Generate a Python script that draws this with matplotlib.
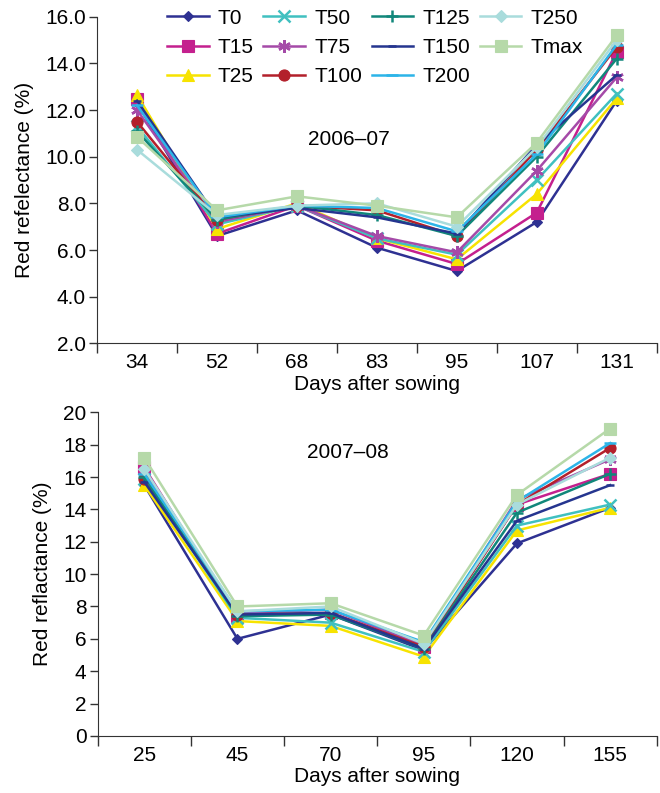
import matplotlib.pyplot as plt
import numpy as np

plt.rcParams['font.family'] = ['Liberation Sans', 'DejaVu Sans']
plt.rcParams['font.size'] = 15

names = ["T0", "T15", "T25", "T50", "T75", "T100", "T125", "T150", "T200", "T250", "Tmax"]

# 2006-07
days1 = ["34", "52", "68", "83", "95", "107", "131"]
t0_1 = [12.3, 6.6, 7.7, 6.1, 5.1, 7.2, 12.4]
t15_1 = [12.45, 6.7, 7.9, 6.4, 5.4, 7.6, 14.5]
t25_1 = [12.65, 6.9, 8.0, 6.5, 5.6, 8.4, 12.5]
t50_1 = [11.3, 7.1, 7.9, 6.5, 5.8, 9.0, 12.7]
t75_1 = [12.0, 7.2, 7.9, 6.6, 5.9, 9.4, 13.4]
t100_1 = [11.5, 7.3, 7.9, 7.7, 6.6, 10.3, 14.7]
t125_1 = [11.1, 7.3, 7.9, 7.5, 6.6, 10.0, 14.2]
t150_1 = [12.4, 7.4, 7.8, 7.4, 6.7, 10.5, 13.5]
t200_1 = [12.2, 7.4, 7.9, 7.8, 6.8, 10.1, 14.8]
t250_1 = [10.3, 7.5, 7.9, 8.0, 7.0, 10.4, 15.0]
tmax_1 = [10.85, 7.7, 8.3, 7.9, 7.4, 10.6, 15.2]

# 2007-08
days2 = ["25", "45", "70", "95", "120", "155"]
t0_2 = [15.5, 6.0, 7.5, 5.3, 11.9, 14.1]
t15_2 = [16.6, 7.4, 7.6, 5.5, 14.3, 16.2]
t25_2 = [15.5, 7.1, 6.8, 4.9, 12.7, 14.1]
t50_2 = [15.9, 7.3, 7.0, 5.2, 13.0, 14.3]
t75_2 = [16.4, 7.6, 7.8, 5.6, 14.6, 17.1]
t100_2 = [15.9, 7.5, 7.6, 5.5, 14.3, 17.8]
t125_2 = [16.0, 7.4, 7.5, 5.4, 13.8, 16.2]
t150_2 = [15.7, 7.5, 7.6, 5.4, 13.3, 15.5]
t200_2 = [16.2, 7.7, 7.8, 5.8, 14.5, 18.1]
t250_2 = [16.5, 7.7, 8.0, 5.7, 14.3, 17.2]
tmax_2 = [17.2, 8.0, 8.2, 6.2, 14.9, 19.0]

series1 = [t0_1, t15_1, t25_1, t50_1, t75_1, t100_1, t125_1, t150_1, t200_1, t250_1, tmax_1]
series2 = [t0_2, t15_2, t25_2, t50_2, t75_2, t100_2, t125_2, t150_2, t200_2, t250_2, tmax_2]

# style per treatment: colour, marker, marker size
styles = [
    ("#2e3192", "D", 5.5),
    ("#c4208e", "s", 8),
    ("#f7e300", "^", 9),
    ("#40c0c0", "x", 8),
    ("#a54aa8", (6, 2, 0), 9),
    ("#b3202b", "o", 8),
    ("#11877a", "+", 9),
    ("#25358f", "_", 6),
    ("#2cb4e8", "_", 8),
    ("#a9dcdc", "D", 6),
    ("#b6d9a9", "s", 9),
]


def draw(ax, days, series, ylim, yticks, yfmt, ylabel, year, year_xy):
    x = np.arange(len(days))
    for vals, name, (c, m, ms) in zip(series, names, styles):
        ax.plot(x, vals, color=c, marker=m, markersize=ms, lw=1.8,
                markeredgewidth=1.8 if m in ("x", "+", "_", (6, 2, 0)) else 0.8,
                markeredgecolor=c, label=name)
    ax.set_xlim(-0.5, len(days) - 0.5)
    ax.set_ylim(*ylim)
    ax.set_yticks(yticks)
    ax.set_yticklabels([yfmt.format(v) for v in yticks])
    ax.set_xticks(np.arange(len(days) + 1) - 0.5)
    ax.set_xticklabels([])
    ax.set_xticks(x, minor=True)
    ax.set_xticklabels(days, minor=True)
    ax.tick_params(axis='x', which='minor', length=0, pad=7)
    ax.tick_params(axis='x', which='major', length=7, width=1, color="#333333")
    ax.tick_params(axis='y', length=6, width=1, color="#333333", pad=2)
    ax.spines['top'].set_visible(False)
    ax.spines['right'].set_visible(False)
    for s in ('left', 'bottom'):
        ax.spines[s].set_color("#333333")
    ax.set_xlabel("Days after sowing", labelpad=2)
    ax.set_ylabel(ylabel, labelpad=8)
    ax.text(year_xy[0], year_xy[1], year, transform=ax.transAxes, ha='center', va='center')


fig = plt.figure(figsize=(6.6, 7.93), dpi=100)
ax1 = fig.add_axes([0.147, 0.567, 0.848, 0.412])
ax2 = fig.add_axes([0.148, 0.072, 0.847, 0.408])

draw(ax1, days1, series1, (2.0, 16.0), np.arange(2.0, 16.1, 2.0), "{:.1f}",
     "Red refelectance (%)", "2006–07", (0.45, 0.625))
draw(ax2, days2, series2, (0, 20), np.arange(0, 21, 2), "{:.0f}",
     "Red reflactance (%)", "2007–08", (0.447, 0.877))

ax1.legend(loc='upper left', bbox_to_anchor=(0.11, 1.05), ncol=4, frameon=False,
           handlelength=2.0, handletextpad=0.45, columnspacing=0.45,
           labelspacing=0.5, borderaxespad=0)

fig.savefig("out.png", dpi=100)
